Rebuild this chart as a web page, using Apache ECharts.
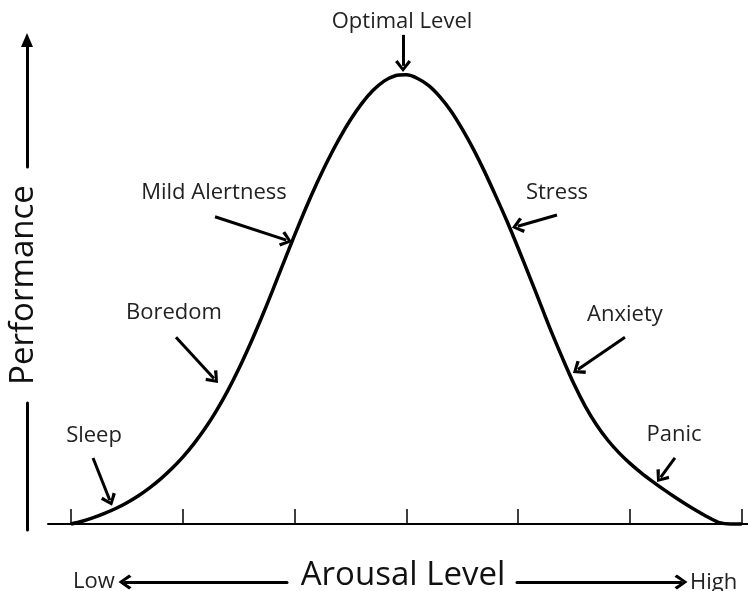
<!DOCTYPE html>
<html>
<head>
<meta charset="utf-8">
<title>Arousal vs Performance</title>
<script src="https://cdn.jsdelivr.net/npm/echarts@6/dist/echarts.min.js"></script>
<style>
  html, body { margin: 0; padding: 0; background: #fff; }
</style>
</head>
<body>
<!-- chart container, same size as the window -->
<div id="main" style="width: 748px;height:591px"></div>
<script>
  // arousal level (x) and performance (y, peak = 100)
  var arousal = [0, 0.1, 0.2, 0.3, 0.4, 0.5, 0.6, 0.7, 0.8, 0.9,
    1.0, 1.1, 1.2, 1.3, 1.4, 1.5, 1.6, 1.7, 1.8, 1.9,
    2.0, 2.1, 2.2, 2.3, 2.4, 2.5, 2.6, 2.7, 2.8, 2.9,
    3.0, 3.1, 3.2, 3.3, 3.4, 3.5, 3.6, 3.7, 3.8, 3.9,
    4.0, 4.1, 4.2, 4.3, 4.4, 4.5, 4.6, 4.7, 4.8, 4.9,
    5.0, 5.1, 5.2, 5.3, 5.4, 5.5, 5.6, 5.7, 5.8, 5.9, 6.0];
  var performance = [0, 0.6, 1.4, 2.35, 3.45, 4.75, 6.25, 8.0, 10.0, 12.3,
    14.9, 17.9, 21.3, 25.2, 29.6, 34.5, 39.9, 45.7, 51.8, 58.1,
    64.3, 70.3, 75.9, 81.1, 85.8, 90.0, 93.6, 96.5, 98.6, 99.8,
    100, 99.2, 97.6, 95.1, 91.9, 87.9, 83.4, 78.4, 73.0, 67.4,
    61.4, 55.2, 48.9, 42.6, 36.7, 31.1, 26.2, 22.1, 18.7, 15.9,
    13.5, 11.4, 9.5, 7.7, 6.0, 4.4, 2.9, 1.5, 0.3, 0, 0];
  var tickValues = [0, 1, 2, 3, 4, 5, 6];

  // annotations: text, label position, arrow tail, arrow head (data units)
  var noteNames = ['Sleep', 'Boredom', 'Mild Alertness', 'Optimal Level', 'Stress', 'Anxiety', 'Panic'];
  var noteLabelAt = [[0.206, 19.6], [0.921, 47.0], [1.279, 73.7], [2.961, 111.8], [4.347, 73.7], [4.955, 46.5], [5.394, 19.8]];
  var noteFrom = [[0.197, 14.7], [0.939, 41.6], [1.288, 68.4], [2.970, 108.9], [4.347, 68.8], [4.955, 41.6], [5.402, 14.7]];
  var noteTo = [[0.347, 5.3], [1.279, 32.4], [1.926, 63.2], [2.970, 102.0], [3.996, 66.3], [4.534, 34.4], [5.274, 10.4]];

  var chevron = 'path://M5,0 L10,7 L8.4,8.6 L5,3.2 L1.6,8.6 L0,7 Z';
  var font = '"Open Sans", "DejaVu Sans", sans-serif';

  var curve = arousal.map(function (x, i) { return [x, performance[i]]; });
  var arrows = noteFrom.map(function (p, i) {
    return [{ coord: p }, { coord: noteTo[i] }];
  });
  var labels = noteNames.map(function (n, i) {
    return { name: n, coord: noteLabelAt[i] };
  });

  // plain axis used only to draw a line (optionally with arrow heads) or a name
  function bareAxis(type, grid, extra) {
    var ax = {
      type: 'value', gridIndex: grid, min: 0, max: 1,
      axisLine: { show: false },
      axisTick: { show: false },
      axisLabel: { show: false },
      splitLine: { show: false }
    };
    return Object.assign(ax, extra || {});
  }
  function arrowLine(symbols, size) {
    return { show: true, symbol: symbols, symbolSize: size,
      lineStyle: { color: '#000', width: 3 } };
  }
  var bigName = { fontSize: 33, color: '#111', verticalAlign: 'middle' };

  var myChart = echarts.init(document.getElementById('main'));
  myChart.setOption({
    animation: false,
    backgroundColor: '#fff',
    textStyle: { fontFamily: font },
    grid: [
      { left: 48, right: 0, top: 3, bottom: 67 },        // 0 main plot
      { left: 27, width: 10, top: 40, bottom: 424 },     // 1 performance arrow, upper part
      { left: 27, width: 10, top: 403, bottom: 61 },     // 2 performance arrow, lower part
      { left: 27, width: 10, top: 40, bottom: 61 },      // 3 performance name
      { left: 125, width: 162, top: 570, height: 12 },   // 4 arousal arrow, left part
      { left: 517, right: 67, top: 570, height: 12 },    // 5 arousal arrow, right part
      { left: 125, right: 67, top: 570, height: 12 }     // 6 arousal name
    ],
    xAxis: [
      {
        type: 'value', gridIndex: 0, min: -0.2057, max: 6.0555,
        axisLine: { show: true, lineStyle: { color: '#000', width: 2 } },
        axisTick: { show: true, inside: true, length: 15, customValues: tickValues,
          lineStyle: { color: '#000', width: 1.5 } },
        axisLabel: { show: false },
        splitLine: { show: false }
      },
      bareAxis('x', 1), bareAxis('x', 2), bareAxis('x', 3),
      bareAxis('x', 4, { axisLine: arrowLine([chevron, 'none'], [16, 13]) }),
      bareAxis('x', 5, { axisLine: arrowLine(['none', chevron], [16, 13]) }),
      bareAxis('x', 6, { name: 'Arousal Level', nameLocation: 'middle', nameGap: 3,
        nameTextStyle: bigName })
    ],
    yAxis: [
      { type: 'value', gridIndex: 0, min: 0, max: 116, show: false },
      bareAxis('y', 1, { axisLine: arrowLine(['none', 'triangle'], [12, 14]) }),
      bareAxis('y', 2, { axisLine: arrowLine(['none', 'none'], [1, 1]) }),
      bareAxis('y', 3, { name: 'Performance', nameLocation: 'middle', nameGap: 3,
        nameTextStyle: bigName }),
      bareAxis('y', 4), bareAxis('y', 5), bareAxis('y', 6)
    ],
    series: [{
      type: 'line',
      xAxisIndex: 0,
      yAxisIndex: 0,
      data: curve,
      smooth: 0.3,
      showSymbol: false,
      clip: false,
      lineStyle: { color: '#000', width: 3.5 },
      markLine: {
        silent: true,
        symbol: ['none', chevron],
        symbolSize: [16, 12],
        label: { show: false },
        lineStyle: { color: '#000', width: 3, type: 'solid' },
        data: arrows
      },
      markPoint: {
        silent: true,
        symbol: 'circle',
        symbolSize: 1,
        itemStyle: { color: 'transparent' },
        label: { show: true, position: 'inside', formatter: '{b}',
          fontSize: 22, color: '#222', fontFamily: font },
        data: labels
      }
    }],
    graphic: [
      { type: 'text', style: { x: 73, y: 582, text: 'Low', verticalAlign: 'middle',
        font: '22px ' + font, fill: '#222' } },
      { type: 'text', style: { x: 690, y: 583, text: 'High', verticalAlign: 'middle',
        font: '22px ' + font, fill: '#222' } }
    ]
  });
</script>
</body>
</html>
